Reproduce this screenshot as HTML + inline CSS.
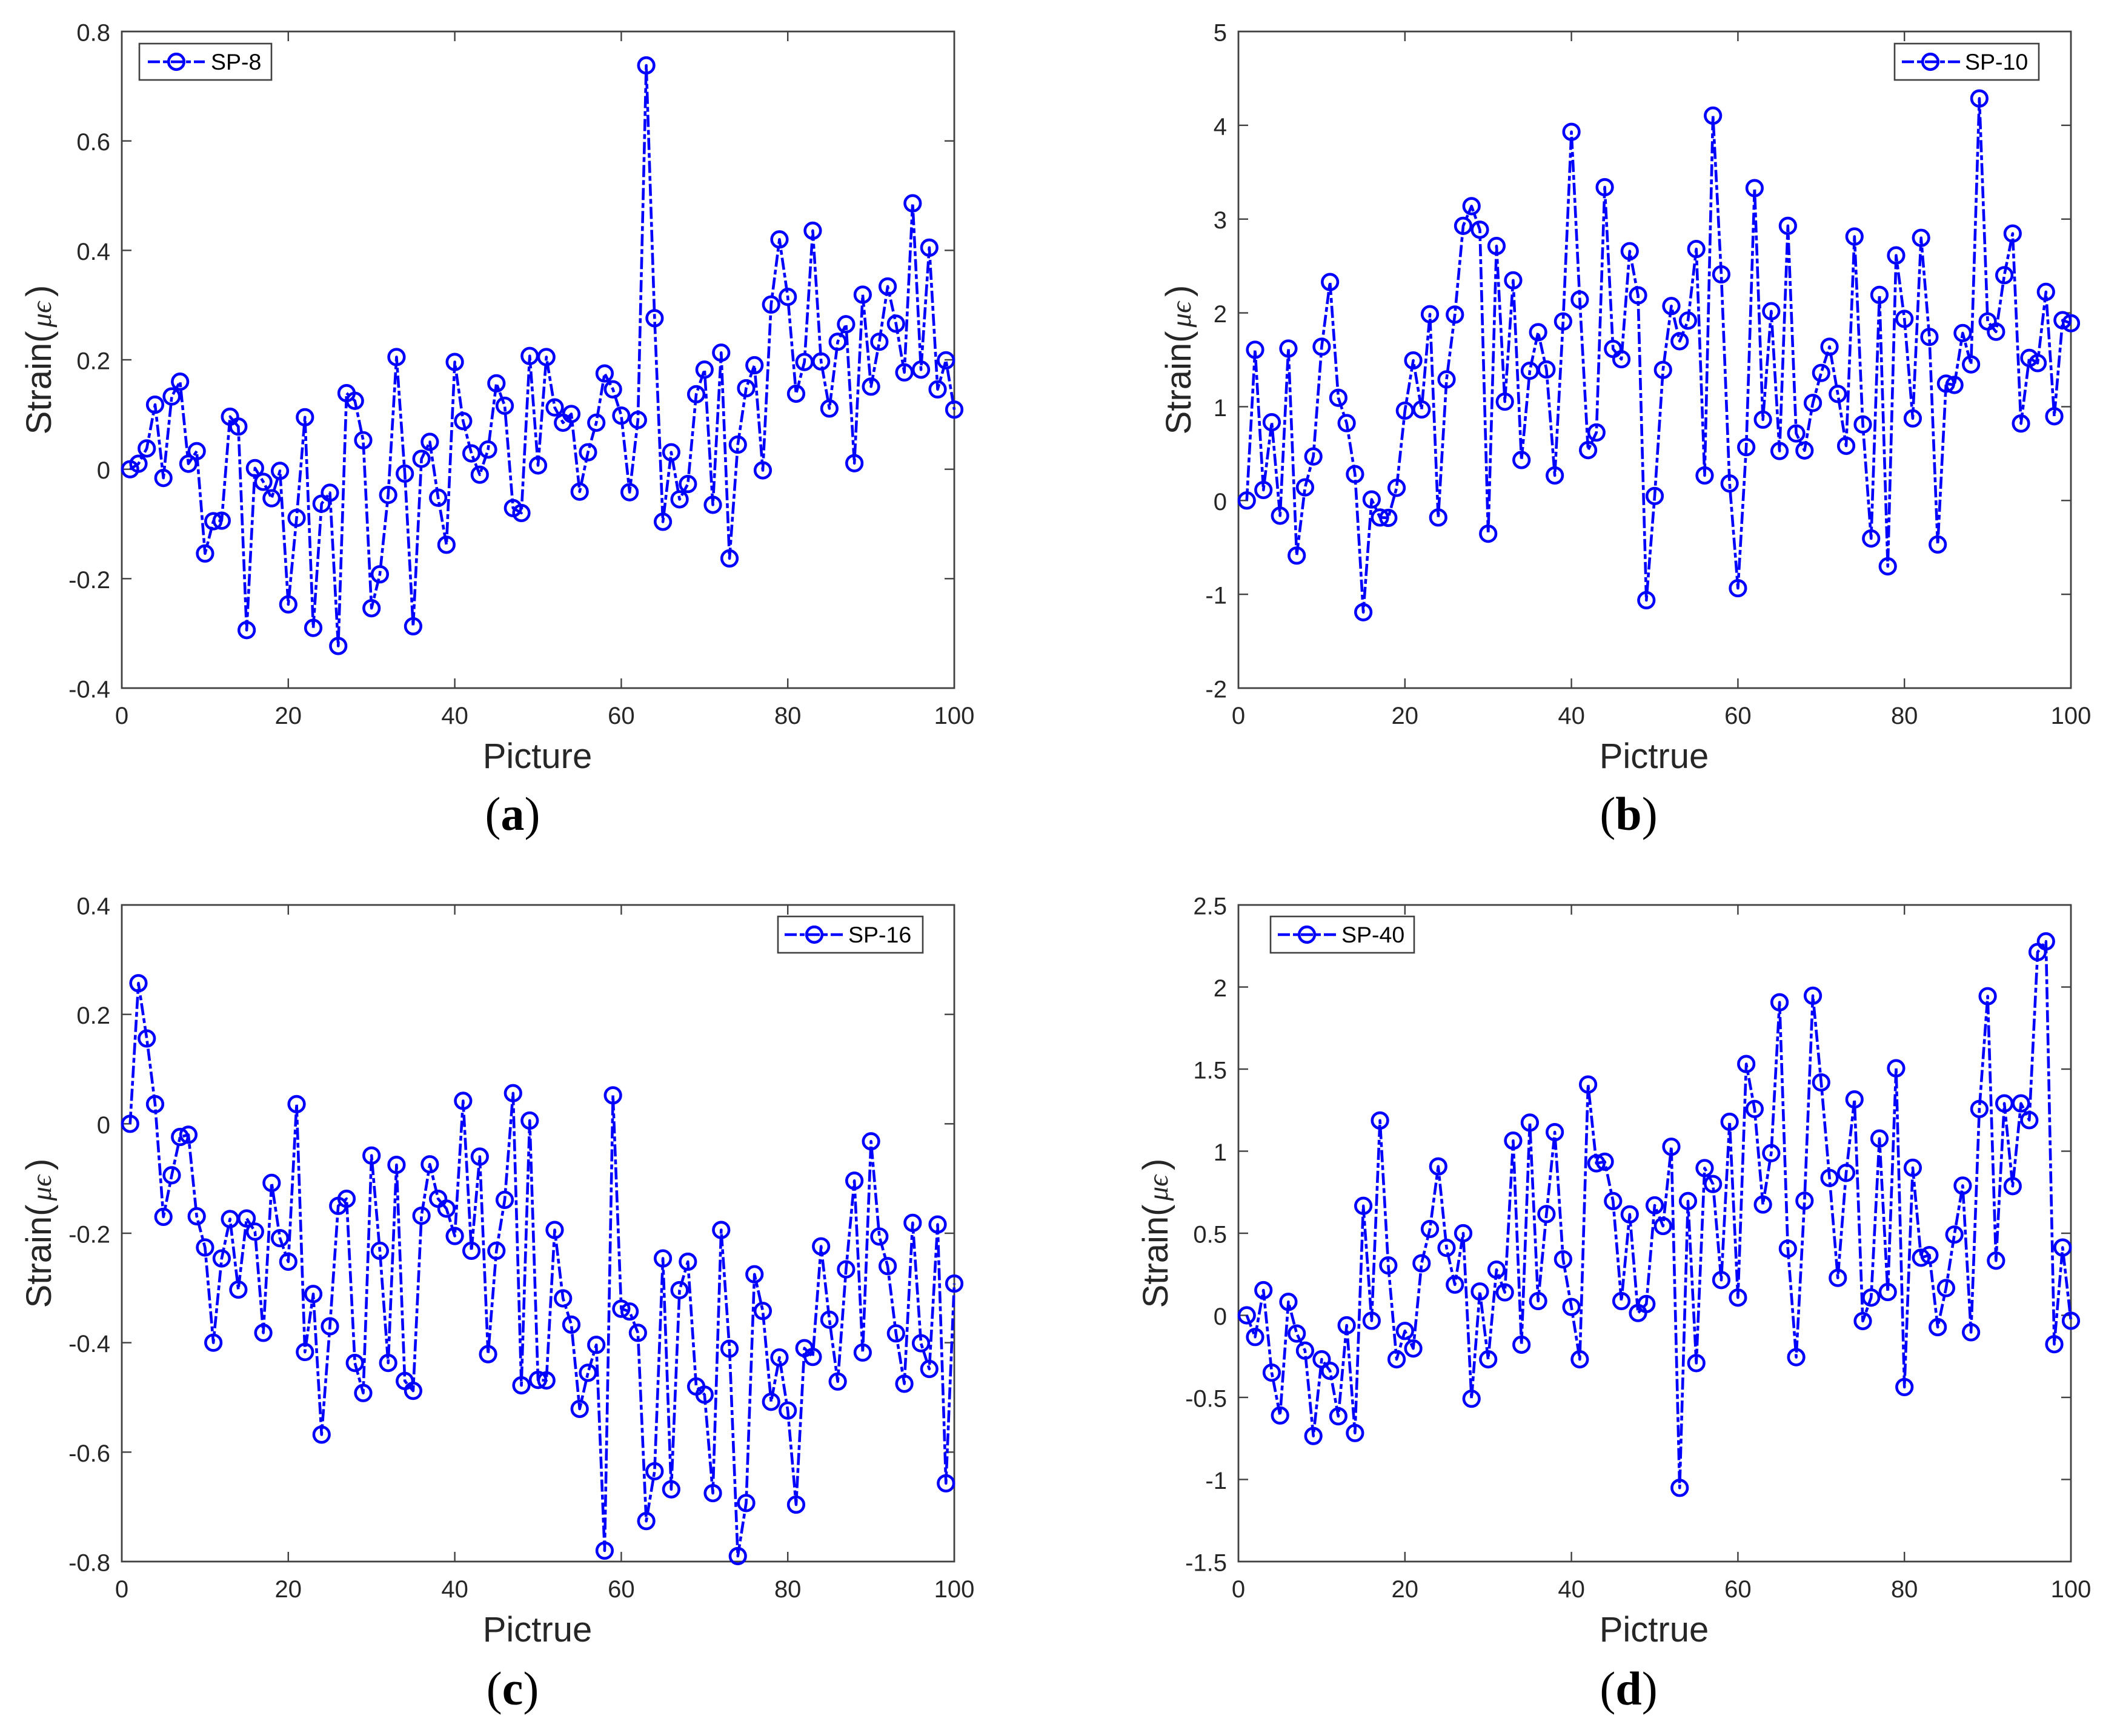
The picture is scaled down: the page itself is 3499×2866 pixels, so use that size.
<!DOCTYPE html>
<html>
<head>
<meta charset="utf-8">
<title>Strain per picture for SP-8, SP-10, SP-16 and SP-40</title>
<style>
html,body{margin:0;padding:0;background:#fff;}
svg{display:block;}
text{font-family:"Liberation Sans",sans-serif;fill:#262626;}
</style>
</head>
<body>
<svg id="figure" xmlns="http://www.w3.org/2000/svg" width="3499" height="2866" viewBox="0 0 3499 2866">
<rect x="0" y="0" width="3499" height="2866" fill="#ffffff"/>
</svg>
<script>
const xTickValues = [0, 20, 40, 60, 80, 100];

const yTicksA = [-0.4, -0.2, 0, 0.2, 0.4, 0.6, 0.8];
const yTicksB = [-2, -1, 0, 1, 2, 3, 4, 5];
const yTicksC = [-0.8, -0.6, -0.4, -0.2, 0, 0.2, 0.4];
const yTicksD = [-1.5, -1, -0.5, 0, 0.5, 1, 1.5, 2, 2.5];

const seriesA = [
0,0.01,0.038,0.118,-0.016,0.133,0.16,0.01,0.033,-0.154,
-0.095,-0.094,0.096,0.078,-0.294,0.002,-0.023,-0.053,-0.003,-0.247,
-0.089,0.095,-0.29,-0.063,-0.043,-0.323,0.139,0.125,0.053,-0.254,
-0.192,-0.047,0.205,-0.008,-0.287,0.019,0.05,-0.052,-0.138,0.196,
0.088,0.029,-0.01,0.036,0.157,0.116,-0.071,-0.08,0.207,0.007,
0.205,0.113,0.085,0.101,-0.041,0.031,0.085,0.175,0.146,0.098,
-0.042,0.09,0.738,0.276,-0.096,0.031,-0.055,-0.027,0.137,0.182,
-0.065,0.213,-0.163,0.045,0.148,0.19,-0.002,0.301,0.42,0.315,
0.138,0.196,0.436,0.197,0.111,0.233,0.265,0.011,0.319,0.151,
0.233,0.334,0.266,0.177,0.486,0.182,0.405,0.146,0.199,0.109];

const seriesB = [
0,1.607,0.112,0.834,-0.162,1.62,-0.587,0.14,0.469,1.639,
2.329,1.095,0.825,0.281,-1.191,0.011,-0.181,-0.185,0.135,0.958,
1.493,0.971,1.986,-0.181,1.291,1.982,2.928,3.138,2.887,-0.354,
2.713,1.054,2.347,0.432,1.383,1.794,1.397,0.267,1.909,3.93,
2.142,0.537,0.725,3.34,1.616,1.506,2.658,2.187,-1.063,0.048,
1.392,2.073,1.698,1.918,2.681,0.267,4.103,2.411,0.181,-0.935,
0.569,3.33,0.862,2.018,0.528,2.928,0.715,0.533,1.04,1.36,
1.639,1.136,0.583,2.814,0.811,-0.405,2.192,-0.702,2.613,1.936,
0.875,2.8,1.744,-0.469,1.246,1.232,1.785,1.451,4.286,1.909,
1.799,2.402,2.846,0.821,1.52,1.465,2.224,0.898,1.922,1.89];

const seriesC = [
0,0.257,0.156,0.036,-0.17,-0.094,-0.024,-0.02,-0.169,-0.226,
-0.4,-0.246,-0.174,-0.303,-0.173,-0.197,-0.382,-0.108,-0.209,-0.252,
0.036,-0.417,-0.311,-0.568,-0.37,-0.15,-0.137,-0.437,-0.492,-0.058,
-0.232,-0.437,-0.075,-0.47,-0.488,-0.168,-0.074,-0.137,-0.155,-0.205,
0.042,-0.232,-0.06,-0.421,-0.232,-0.139,0.056,-0.478,0.006,-0.468,
-0.469,-0.194,-0.319,-0.367,-0.521,-0.455,-0.404,-0.78,0.052,-0.338,
-0.343,-0.382,-0.726,-0.635,-0.246,-0.668,-0.304,-0.252,-0.48,-0.495,
-0.675,-0.194,-0.411,-0.79,-0.693,-0.275,-0.342,-0.508,-0.427,-0.524,
-0.696,-0.41,-0.426,-0.224,-0.358,-0.471,-0.266,-0.104,-0.418,-0.032,
-0.206,-0.26,-0.383,-0.475,-0.181,-0.401,-0.448,-0.184,-0.657,-0.292];

const seriesD = [
0,-0.132,0.153,-0.349,-0.61,0.082,-0.111,-0.215,-0.735,-0.268,
-0.338,-0.615,-0.061,-0.717,0.667,-0.033,1.187,0.304,-0.268,-0.095,
-0.202,0.317,0.526,0.907,0.411,0.187,0.5,-0.508,0.145,-0.268,
0.278,0.14,1.064,-0.179,1.174,0.087,0.617,1.116,0.341,0.051,
-0.268,1.406,0.926,0.936,0.696,0.087,0.615,0.014,0.069,0.67,
0.544,1.027,-1.051,0.696,-0.291,0.897,0.8,0.215,1.179,0.108,
1.531,1.257,0.675,0.988,1.907,0.406,-0.255,0.698,1.947,1.419,
0.837,0.228,0.868,1.315,-0.035,0.108,1.077,0.142,1.505,-0.437,
0.899,0.351,0.367,-0.072,0.166,0.492,0.79,-0.103,1.257,1.944,
0.333,1.291,0.787,1.291,1.189,2.213,2.278,-0.176,0.413,-0.033];

const panels = [
  {key:'a', name:'SP-8',  xLabel:'Picture', caption:'a', values:seriesA, yTicks:yTicksA,
   left:201,  top:52,   titleX:84,   captionX:846,  captionY:1370,
   legend:{x:230, y:72, w:218, lineX1:244, lineX2:338, markX:291, textX:348}},
  {key:'b', name:'SP-10', xLabel:'Pictrue', caption:'b', values:seriesB, yTicks:yTicksB,
   left:2044, top:52,   titleX:1965, captionX:2688, captionY:1370,
   legend:{x:3127, y:72, w:238, lineX1:3139, lineX2:3235, markX:3186, textX:3243}},
  {key:'c', name:'SP-16', xLabel:'Pictrue', caption:'c', values:seriesC, yTicks:yTicksC,
   left:201,  top:1494, titleX:84,   captionX:846,  captionY:2814,
   legend:{x:1284, y:1513, w:239, lineX1:1295, lineX2:1392, markX:1344, textX:1400}},
  {key:'d', name:'SP-40', xLabel:'Pictrue', caption:'d', values:seriesD, yTicks:yTicksD,
   left:2044, top:1494, titleX:1927, captionX:2688, captionY:2814,
   legend:{x:2097, y:1513, w:237, lineX1:2109, lineX2:2205, markX:2157, textX:2214}}
];

const NS = 'http://www.w3.org/2000/svg';
const PLOT_W = 1374, PLOT_H = 1084, TICK = 16;
const AXIS_COLOR = '#404040', BLUE = '#0000ff';
const DASH = '20 5 8 5';
const figure = document.getElementById('figure');

function make(tag, attrs, parent, txt) {
  const el = document.createElementNS(NS, tag);
  for (const k in attrs) el.setAttribute(k, attrs[k]);
  if (txt !== undefined) el.textContent = txt;
  parent.appendChild(el);
  return el;
}

function drawPanel(p) {
  const yMin = p.yTicks[0], yMax = p.yTicks[p.yTicks.length - 1];
  const xMin = xTickValues[0], xMax = xTickValues[xTickValues.length - 1];
  const xScale = v => p.left + (v - xMin) / (xMax - xMin) * PLOT_W;
  const yScale = v => p.top + PLOT_H - (v - yMin) / (yMax - yMin) * PLOT_H;
  const bottom = p.top + PLOT_H, right = p.left + PLOT_W;

  const g = make('g', {}, figure);
  
  

  const frame = make('rect', {x:p.left, y:p.top, width:PLOT_W, height:PLOT_H, fill:'none', stroke:AXIS_COLOR, 'stroke-width':2.8}, g);
  
  

  xTickValues.forEach(v => {
    const x = xScale(v);
    if (v !== xMin && v !== xMax) {
      const t1 = make('line', {x1:x, x2:x, y1:bottom, y2:bottom - TICK, stroke:AXIS_COLOR, 'stroke-width':2.4}, g);
      
      
      const t2 = make('line', {x1:x, x2:x, y1:p.top, y2:p.top + TICK, stroke:AXIS_COLOR, 'stroke-width':2.4}, g);
      
      
    }
    const lab = make('text', {x:x, y:bottom + 59, 'font-size':40, 'text-anchor':'middle'}, g, String(v));
    
    
  });

  p.yTicks.forEach(v => {
    const y = yScale(v);
    if (v !== yMin && v !== yMax) {
      const t1 = make('line', {x1:p.left, x2:p.left + TICK, y1:y, y2:y, stroke:AXIS_COLOR, 'stroke-width':2.4}, g);
      
      
      const t2 = make('line', {x1:right, x2:right - TICK, y1:y, y2:y, stroke:AXIS_COLOR, 'stroke-width':2.4}, g);
      
      
    }
    const lab = make('text', {x:p.left - 19, y:y + 15.5, 'font-size':40, 'text-anchor':'end'}, g, String(v));
    
    
  });

  const d = p.values.map((v, i) => (i ? 'L' : 'M') + xScale(i + 1).toFixed(2) + ' ' + yScale(v).toFixed(2)).join(' ');
  const line = make('path', {d:d, fill:'none', stroke:BLUE, 'stroke-width':4.6, 'stroke-dasharray':DASH, 'stroke-linejoin':'round'}, g);
  
  

  p.values.forEach((v, i) => {
    const m = make('circle', {cx:xScale(i + 1), cy:yScale(v), r:12.8, fill:'none', stroke:BLUE, 'stroke-width':4.6}, g);
    
    
  });

  const xt = make('text', {x:p.left + PLOT_W / 2 - 1, y:bottom + 132, 'font-size':58, 'text-anchor':'middle'}, g, p.xLabel);
  
  

  const yCenter = p.top + PLOT_H / 2;
  const yt = make('text', {x:p.titleX, y:yCenter, 'font-size':58, 'text-anchor':'middle', transform:'rotate(-90 ' + p.titleX + ' ' + yCenter + ')'}, g);
  
  
  make('tspan', {}, yt, 'Strain(');
  make('tspan', {dx:6, 'font-size':47, 'font-style':'italic', style:'font-family:"Liberation Serif",serif'}, yt, 'μϵ');
  make('tspan', {dx:8}, yt, ')');

  const cap = make('text', {x:p.captionX, y:p.captionY, 'font-size':78, 'text-anchor':'middle', style:'font-family:"Liberation Serif",serif;fill:#000'}, g);
  
  
  make('tspan', {}, cap, '(');
  make('tspan', {'font-weight':'bold'}, cap, p.caption);
  make('tspan', {}, cap, ')');

  const lg = make('g', {}, g);
  
  
  const L = p.legend, my = L.y + 30;
  const box = make('rect', {x:L.x, y:L.y, width:L.w, height:60, fill:'#fff', stroke:AXIS_COLOR, 'stroke-width':2.6}, lg);
  
  
  const ll = make('line', {x1:L.lineX1, x2:L.lineX2, y1:my, y2:my, stroke:BLUE, 'stroke-width':4.6, 'stroke-dasharray':DASH}, lg);
  
  
  const lm = make('circle', {cx:L.markX, cy:my, r:12.8, fill:'none', stroke:BLUE, 'stroke-width':4.6}, lg);
  
  
  const lt = make('text', {x:L.textX, y:my + 13, 'font-size':37.5, style:'fill:#000'}, lg, p.name);
  
  
}

panels.forEach(drawPanel);
</script>
</body>
</html>
